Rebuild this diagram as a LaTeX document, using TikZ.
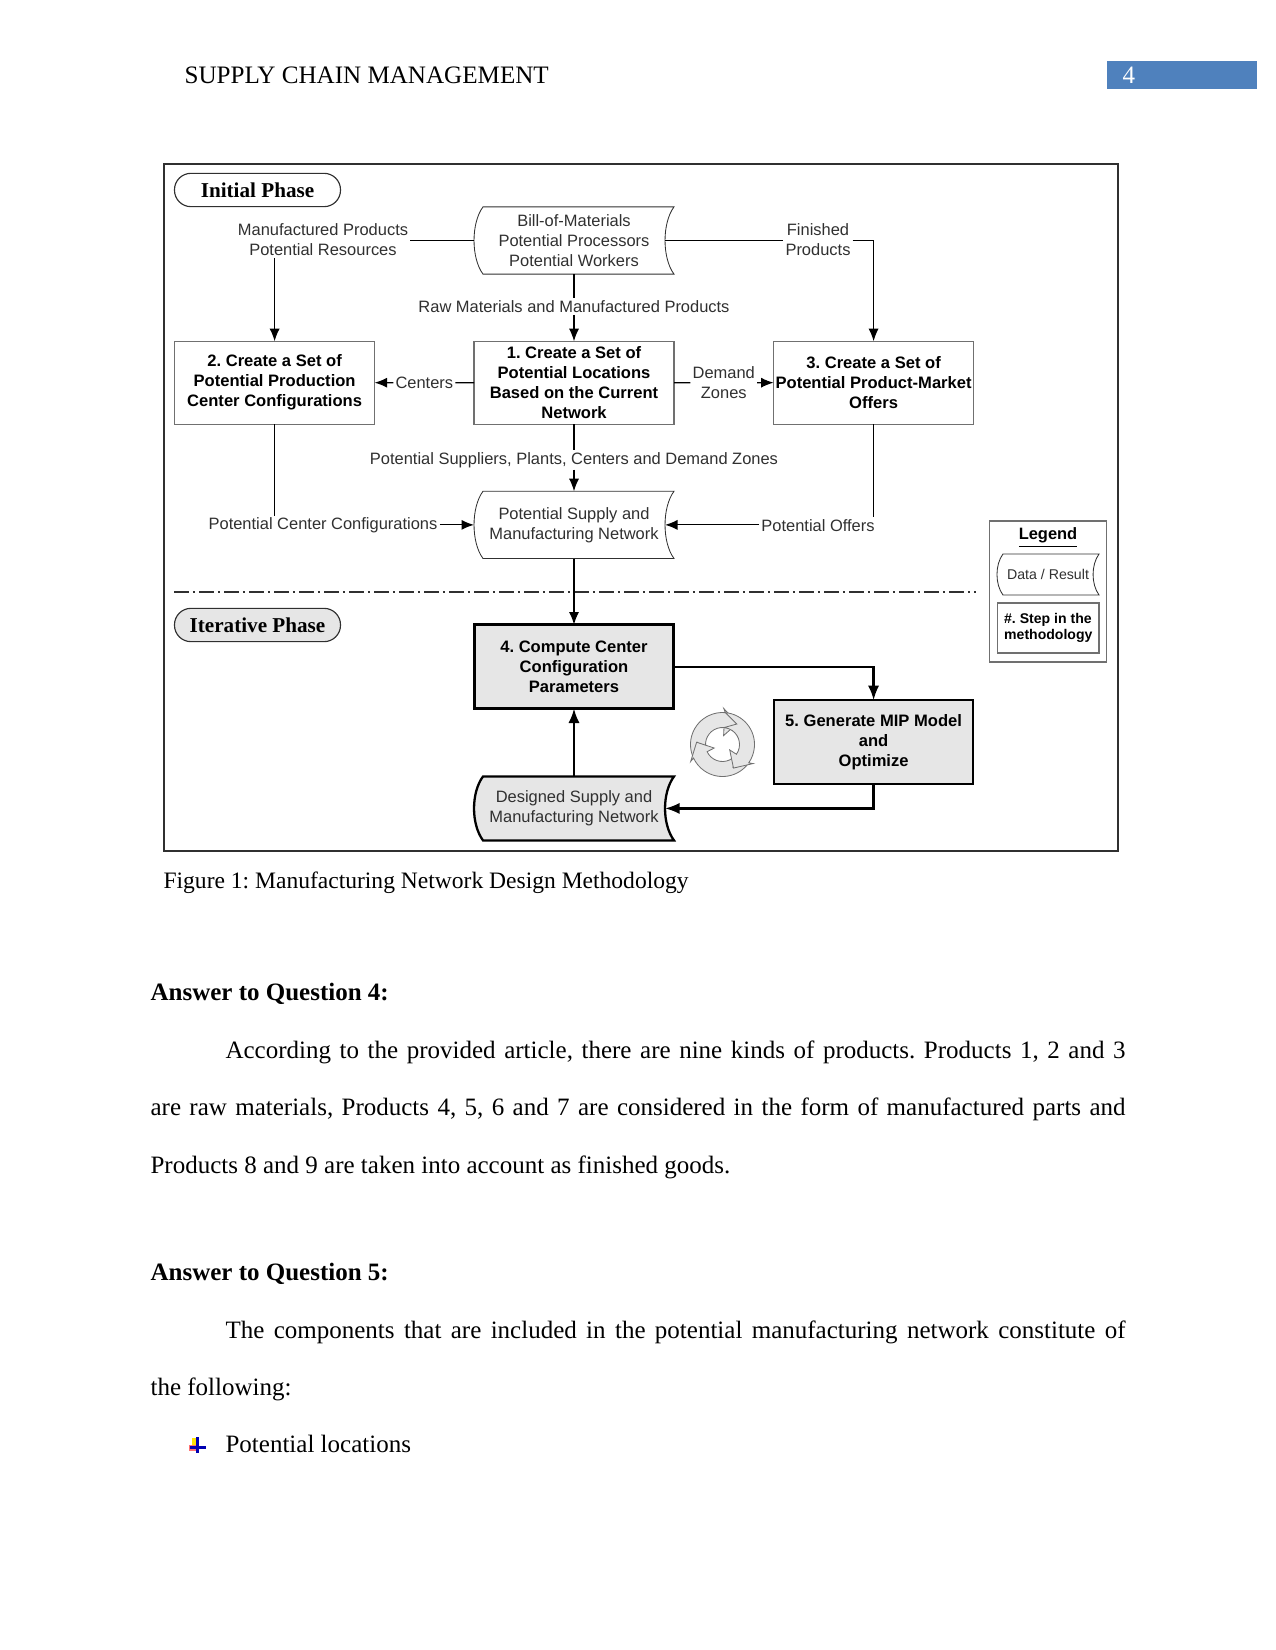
\documentclass[tikz,border=0pt]{standalone}
\usepackage{xcolor}
\usepackage{fontspec}
\usepackage{tikz}
\usetikzlibrary{arrows.meta,positioning,calc,backgrounds}
\setmainfont{Liberation Serif}
\newfontfamily\diagfont{Liberation Sans}
\frenchspacing
\definecolor{headblue}{HTML}{4F81BD}
\definecolor{panelgrey}{HTML}{E6E6E6}
\definecolor{edgegrey}{HTML}{707070}
\definecolor{inkgrey}{HTML}{303030}
\newcommand{\docoutline}[3][]{%
\begin{scope}[on background layer]
\draw[#1] ($(#2.north west)+(#3,0)$)--(#2.north east) .. controls ($(#2.north east)+(-1.33*#3,1.8*#3)$) and ($(#2.south east)+(-1.33*#3,-1.8*#3)$) .. (#2.south east)--($(#2.south west)+(#3,0)$) .. controls ($(#2.south west)+(-0.33*#3,-1.8*#3)$) and ($(#2.north west)+(-0.33*#3,1.8*#3)$) .. cycle;
\end{scope}
\coordinate (#2-r) at ($(#2.east)+(-#3,0)$);}
\begin{document}
\begin{tikzpicture}[x=0.48pt,y=-0.48pt,line width=0.55pt,
lbl/.style={font=\diagfont\fontsize{7.9}{9.6}\selectfont,text=inkgrey,align=center,inner sep=0.8pt},
stepbox/.style={draw=edgegrey,fill=white,outer sep=0pt,minimum width=96pt,minimum height=39.8pt,inner sep=0pt,align=center,font=\diagfont\bfseries\fontsize{7.95}{9.6}\selectfont},
heavybox/.style={stepbox,draw=black,line width=1.1pt,fill=panelgrey,minimum width=95.5pt,minimum height=40.3pt},
docbox/.style={outer sep=0pt,minimum width=96pt,minimum height=32.3pt,inner sep=0pt,align=center,text=inkgrey,font=\diagfont\fontsize{7.9}{9.6}\selectfont},
phase/.style={draw=inkgrey,rounded corners=7.9pt,minimum width=79.7pt,minimum height=16pt,inner sep=0pt,font=\bfseries\fontsize{10.15}{12}\selectfont},
arr/.style={-{Latex[length=6pt,width=4.8pt]}},
heavyarr/.style={-{Latex[length=7pt,width=5.4pt]},line width=1.1pt},
para/.style={anchor=north west,inner sep=0pt,text width=468pt,align=justify,font=\fontsize{12}{27.6}\selectfont},
plain/.style={anchor=base west,inner sep=0pt,font=\fontsize{12}{14}\selectfont}]
\useasboundingbox (0,0) rectangle (1275,1650);
% running head
\node[plain,font=\fontsize{12.05}{14}\selectfont] (runhead) at (184,84) {SUPPLY CHAIN MANAGEMENT};
\node[fill=headblue,minimum width=72pt,minimum height=13pt,inner sep=0pt] (pagebar) at (1182,75) {};
\node[plain,text=white] (pagenum) at (1122,84) {4};
% figure frame
\node[draw=inkgrey,line width=0.9pt,minimum width=458pt,minimum height=329.8pt] (frame) at (641,507.5) {};
\node[phase] (initial) at (257.5,190) {Initial Phase};
\node[phase,fill=panelgrey] (iterative) at (257.5,625) {Iterative Phase};
% main column
\node[docbox] (bom) at (574,240.5) {Bill-of-Materials\\Potential Processors\\Potential Workers};
\node[stepbox,below=32.2pt of bom] (step1) {1. Create a Set of\\Potential Locations\\Based on the Current\\Network};
\node[stepbox,left=47.7pt of step1] (step2) {2. Create a Set of\\Potential Production\\Center Configurations};
\node[stepbox,right=47.8pt of step1] (step3) {3. Create a Set of\\Potential Product-Market\\Offers};
\node[docbox,below=32.2pt of step1] (netpot) {Potential Supply and\\Manufacturing Network};
\node[heavybox,below=31.7pt of netpot] (step4) {4. Compute Center\\Configuration\\Parameters};
\node[heavybox,below=132.5pt of step3] (step5) {5. Generate MIP Model\\and\\Optimize};
\node[docbox,minimum height=30.7pt,below=32.6pt of step4] (netdes) {Designed Supply and\\Manufacturing Network};
\docoutline[draw=inkgrey]{bom}{9}
\docoutline[draw=inkgrey]{netpot}{9}
\docoutline[draw=black,line width=1.1pt,fill=panelgrey]{netdes}{9}
% flow labels
\node[lbl] (mfglbl) at (323,239.5) {Manufactured Products\\Potential Resources};
\node[lbl] (finlbl) at (818,239.5) {Finished\\Products};
\node[lbl,fill=white,yshift=0.5pt] (rawlbl) at ($(bom.south)!0.5!(step1.north)$) {Raw Materials and Manufactured Products};
\node[lbl] (centlbl) at ($(step2.east)!0.5!(step1.west)$) {Centers};
\node[lbl] (demlbl) at ($(step1.east)!0.5!(step3.west)$) {Demand\\Zones};
\node[lbl,fill=white,yshift=-1pt] (suplbl) at ($(step1.south)!0.5!(netpot.north)$) {Potential Suppliers, Plants, Centers and Demand Zones};
\node[lbl] (pcclbl) at (323,525.5) {Potential Center Configurations};
\node[lbl] (offlbl) at (818,525.5) {Potential Offers};
% connectors
\draw (bom.west)--(mfglbl.east |- bom.west);
\draw[arr] (mfglbl.south -| step2)--(step2);
\draw (bom-r)--(finlbl.west |- bom-r);
\draw[arr] (finlbl.east |- bom-r) -| (step3);
\draw (bom)--(rawlbl);
\draw[arr] (rawlbl)--(step1);
\draw (step1)--(centlbl);
\draw[arr] (centlbl)--(step2);
\draw (step1)--(demlbl);
\draw[arr] (demlbl)--(step3);
\draw (step1)--(suplbl);
\draw[arr] (suplbl)--(netpot);
\draw (step2)--(pcclbl.north -| step2);
\draw[arr] (pcclbl.east |- netpot.west)--(netpot.west);
\draw (step3)--(offlbl.north -| step3);
\draw[arr] (offlbl.west |- netpot-r)--(netpot-r);
\coordinate (splitl) at (174,592);
\coordinate (splitr) at (976,592);
\draw[draw=inkgrey,line width=0.5pt,dash pattern=on 7pt off 2pt on 1pt off 2pt] (splitl)--(splitr);
\draw[arr] (netpot)--(step4);
\coordinate (fourout) at (step4.east |- 0,667);
\draw[heavyarr] (fourout) -| (step5);
\draw[heavyarr] (step5) |- (netdes-r);
\draw[heavyarr] (netdes)--(step4);
% cycle symbol
\foreach \ang in {0,120,240}{
\begin{scope}[shift={(722.5,744.5)},x=0.48pt,y=0.48pt,rotate=\ang]
\draw[draw=edgegrey,fill=panelgrey,line width=0.4pt] (205:32) arc (205:85:32)--(88:36)--(55:26)--(83:9)--(85:17) arc (85:205:17)--(175:25)--cycle;
\end{scope}}
% legend
\node[draw=edgegrey,minimum width=56.2pt,minimum height=67.7pt] (legend) at (1048,591.5) {};
\node[font=\diagfont\bfseries\fontsize{7.9}{9}\selectfont,inner sep=0pt] (legendhd) at (1048,537.5) {\underline{Legend}};
\node[docbox,minimum width=49pt,minimum height=19.7pt,font=\diagfont\fontsize{6.8}{8}\selectfont] (legdoc) at (1048,574.5) {Data / Result};
\docoutline[draw=inkgrey]{legdoc}{6}
\node[draw=edgegrey,minimum width=48.7pt,minimum height=24pt,inner sep=0pt,font=\diagfont\bfseries\fontsize{6.75}{7.6}\selectfont,align=left] (legstep) at (1048.3,628) {\#. Step in the\\methodology};
% caption and text below
\node[plain,font=\fontsize{11.3}{14}\selectfont] (caption) at (163,888) {Figure 1: Manufacturing Network Design Methodology};
\node[plain,font=\bfseries\fontsize{12}{14}\selectfont] (ans4) at (150,1000) {Answer to Question 4:};
\node[para] (ans4text) at (150,1040) {\hspace*{36pt}According to the provided article, there are nine kinds of products. Products 1, 2 and 3\linebreak are raw materials, Products 4, 5, 6 and 7 are considered in the form of manufactured parts and\linebreak Products 8 and 9 are taken into account as finished goods.};
\node[plain,font=\bfseries\fontsize{12}{14}\selectfont] (ans5) at (150,1280) {Answer to Question 5:};
\node[para] (ans5text) at (150,1320) {\hspace*{36pt}The components that are included in the potential manufacturing network constitute of\linebreak the following:};
\node[plain] (item) at (225,1452) {Potential locations};
% list bullet
\fill[red!55!white] (189,1445) rectangle (196,1451);
\fill[yellow!85!orange] (192,1438) rectangle (197,1445);
\fill[blue!70!black] (196,1437) rectangle (199,1453);
\fill[blue!70!black] (190,1446) rectangle (206,1449);
\end{tikzpicture}
\end{document}
